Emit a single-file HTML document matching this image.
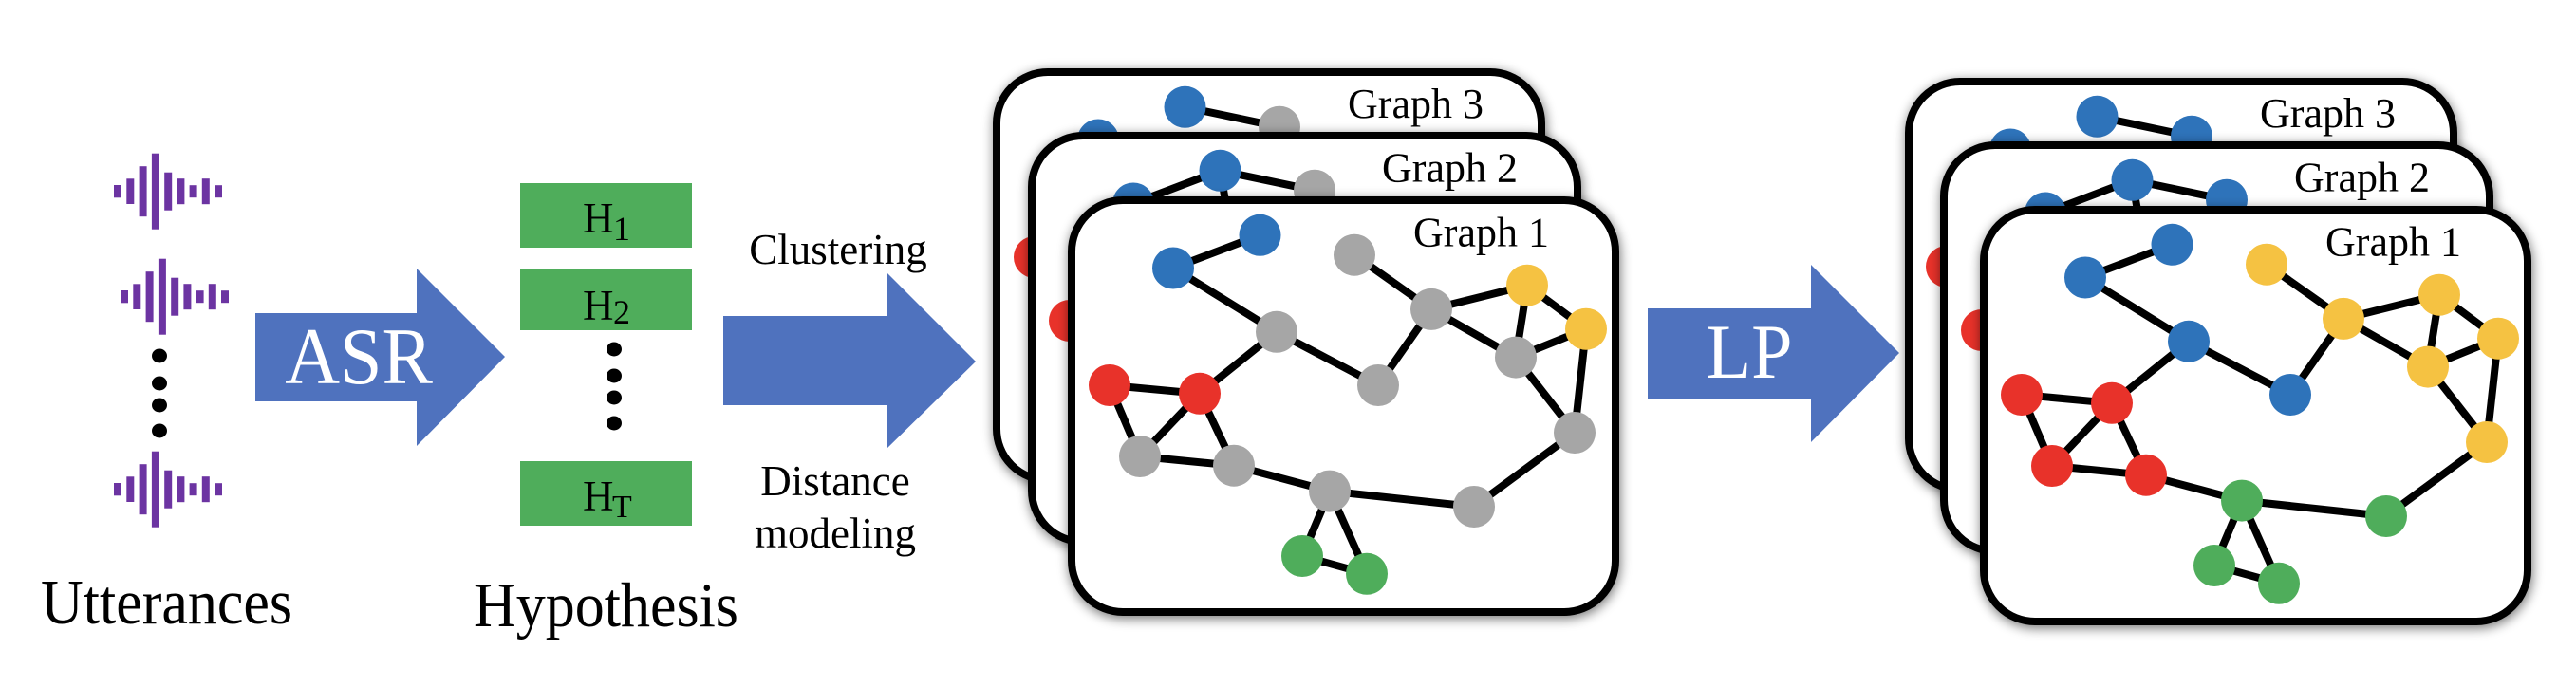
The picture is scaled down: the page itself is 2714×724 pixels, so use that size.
<!DOCTYPE html>
<html><head><meta charset="utf-8"><style>
html,body{margin:0;padding:0;background:#fff;}
svg{display:block;}
text{font-family:"Liberation Serif","Times New Roman",serif;}
</style></head><body>
<svg width="2714" height="724" viewBox="0 0 2714 724" xmlns="http://www.w3.org/2000/svg" font-family="'Liberation Serif', 'Times New Roman', serif">
<defs>
<filter id="sh" x="-10%" y="-10%" width="120%" height="125%">
<feGaussianBlur in="SourceAlpha" stdDeviation="6"/>
<feOffset dx="1" dy="3" result="b"/>
<feComponentTransfer in="b" result="c"><feFuncA type="linear" slope="0.55"/></feComponentTransfer>
<feMerge><feMergeNode in="c"/><feMergeNode in="SourceGraphic"/></feMerge>
</filter>
<g id="wave" fill="#6C34A2">
<rect x="120" y="195" width="8" height="13.3"/>
<rect x="133.3" y="188.3" width="8" height="26.7"/>
<rect x="146.6" y="175.2" width="8" height="53"/>
<rect x="159.9" y="161.7" width="8" height="80"/>
<rect x="173.2" y="181.7" width="8" height="40"/>
<rect x="186.4" y="188.2" width="8" height="27"/>
<rect x="199.6" y="195.2" width="8" height="13"/>
<rect x="212.8" y="188.2" width="8" height="27"/>
<rect x="226" y="195.2" width="8" height="13"/>
</g>
</defs>

<!-- waveforms -->
<use href="#wave"/>
<use href="#wave" transform="translate(7,111)"/>
<use href="#wave" transform="translate(0,314)"/>
<g fill="#000">
<ellipse cx="168" cy="375" rx="8" ry="7.5"/>
<ellipse cx="168" cy="404" rx="8" ry="7.5"/>
<ellipse cx="168" cy="427" rx="8" ry="7.5"/>
<ellipse cx="168" cy="454" rx="8" ry="7.5"/>
</g>
<text transform="translate(43,657) scale(1,1.07)" font-size="62">Utterances</text>

<!-- ASR arrow -->
<polygon points="269,330 439,330 439,283 532,376 439,470 439,423 269,423" fill="#4F72BE"/>
<text transform="translate(378,404) scale(1,1.06)" font-size="80" fill="#fff" text-anchor="middle">ASR</text>

<!-- hypothesis boxes -->
<g fill="#4FAD5B">
<rect x="548" y="193" width="181" height="68"/>
<rect x="548" y="283" width="181" height="65"/>
<rect x="548" y="486" width="181" height="68"/>
</g>
<g font-size="45" fill="#000">
<text x="614" y="245">H</text><text x="646" y="253" font-size="36">1</text>
<text x="614" y="337">H</text><text x="646" y="341" font-size="36">2</text>
<text x="614" y="538">H</text><text x="645" y="545" font-size="34">T</text>
</g>
<g fill="#000">
<ellipse cx="647" cy="368" rx="8" ry="7.5"/>
<ellipse cx="647" cy="396" rx="8" ry="7.5"/>
<ellipse cx="647" cy="419" rx="8" ry="7.5"/>
<ellipse cx="647" cy="446" rx="8" ry="7.5"/>
</g>
<text transform="translate(499,660) scale(1,1.07)" font-size="62">Hypothesis</text>

<!-- clustering arrow -->
<text x="883" y="278" font-size="45" text-anchor="middle">Clustering</text>
<polygon points="762,333 934,333 934,287 1028,381 934,473 934,427 762,427" fill="#4F72BE"/>
<text x="880" y="522" font-size="45" text-anchor="middle">Distance</text>
<text x="880" y="577" font-size="45" text-anchor="middle">modeling</text>

<!-- LP arrow -->
<polygon points="1736,325 1908,325 1908,279 2001,372 1908,466 1908,420 1736,420" fill="#4F72BE"/>
<text transform="translate(1843,398) scale(1,1.05)" font-size="78" fill="#fff" text-anchor="middle">LP</text>

<!-- LEFT GRAPH STACK -->
<g id="leftstack">
<rect x="1050" y="76" width="574" height="430" rx="54" fill="#fff" stroke="#000" stroke-width="8" filter="url(#sh)"/>
<g stroke="#000" stroke-width="8"><line x1="1248.5" y1="112.8" x2="1348" y2="133.7"/></g>
<circle cx="1248.5" cy="112.8" r="22" fill="#2E73BA"/>
<circle cx="1348" cy="133.7" r="22" fill="#A6A6A6"/>
<circle cx="1157" cy="147.5" r="22" fill="#2E73BA"/>
<circle cx="1090" cy="271" r="22" fill="#E8322A"/>
<text x="1563" y="124" font-size="44" text-anchor="end">Graph 3</text>

<rect x="1087" y="143" width="575" height="428" rx="54" fill="#fff" stroke="#000" stroke-width="8" filter="url(#sh)"/>
<g stroke="#000" stroke-width="8">
<line x1="1285.5" y1="179.8" x2="1194" y2="214.5"/>
<line x1="1285.5" y1="179.8" x2="1385" y2="200.7"/>
<line x1="1285.5" y1="179.8" x2="1303" y2="281.8"/>
</g>
<circle cx="1285.5" cy="179.8" r="22" fill="#2E73BA"/>
<circle cx="1385" cy="200.7" r="22" fill="#A6A6A6"/>
<circle cx="1194" cy="214.5" r="22" fill="#2E73BA"/>
<circle cx="1127" cy="338" r="22" fill="#E8322A"/>
<text x="1599" y="191.5" font-size="44" text-anchor="end">Graph 2</text>

<rect x="1129" y="211" width="573" height="434" rx="54" fill="#fff" stroke="#000" stroke-width="8" filter="url(#sh)"/>
<g stroke="#000" stroke-width="8">
<line x1="1327.5" y1="247.8" x2="1236" y2="282.5"/>
<line x1="1236" y1="282.5" x2="1345" y2="349.8"/>
<line x1="1427" y1="268.7" x2="1508" y2="325.9"/>
<line x1="1508" y1="325.9" x2="1609" y2="300.7"/>
<line x1="1508" y1="325.9" x2="1597" y2="376.6"/>
<line x1="1508" y1="325.9" x2="1452" y2="406"/>
<line x1="1609" y1="300.7" x2="1671" y2="346.7"/>
<line x1="1609" y1="300.7" x2="1597" y2="376.6"/>
<line x1="1671" y1="346.7" x2="1597" y2="376.6"/>
<line x1="1671" y1="346.7" x2="1659" y2="456"/>
<line x1="1597" y1="376.6" x2="1659" y2="456"/>
<line x1="1345" y1="349.8" x2="1452" y2="406"/>
<line x1="1345" y1="349.8" x2="1264" y2="414.8"/>
<line x1="1169" y1="406" x2="1264" y2="414.8"/>
<line x1="1169" y1="406" x2="1201" y2="481"/>
<line x1="1264" y1="414.8" x2="1201" y2="481"/>
<line x1="1264" y1="414.8" x2="1300" y2="490.7"/>
<line x1="1201" y1="481" x2="1300" y2="490.7"/>
<line x1="1300" y1="490.7" x2="1401" y2="517.6"/>
<line x1="1401" y1="517.6" x2="1553" y2="534"/>
<line x1="1553" y1="534" x2="1659" y2="456"/>
<line x1="1401" y1="517.6" x2="1372" y2="586"/>
<line x1="1401" y1="517.6" x2="1440" y2="604.8"/>
<line x1="1372" y1="586" x2="1440" y2="604.8"/>
</g>
<circle cx="1327.5" cy="247.8" r="22" fill="#2E73BA"/>
<circle cx="1236" cy="282.5" r="22" fill="#2E73BA"/>
<circle cx="1427" cy="268.7" r="22" fill="#A6A6A6"/>
<circle cx="1345" cy="349.8" r="22" fill="#A6A6A6"/>
<circle cx="1508" cy="325.9" r="22" fill="#A6A6A6"/>
<circle cx="1609" cy="300.7" r="22" fill="#F5C242"/>
<circle cx="1671" cy="346.7" r="22" fill="#F5C242"/>
<circle cx="1597" cy="376.6" r="22" fill="#A6A6A6"/>
<circle cx="1452" cy="406" r="22" fill="#A6A6A6"/>
<circle cx="1169" cy="406" r="22" fill="#E8322A"/>
<circle cx="1264" cy="414.8" r="22" fill="#E8322A"/>
<circle cx="1201" cy="481" r="22" fill="#A6A6A6"/>
<circle cx="1300" cy="490.7" r="22" fill="#A6A6A6"/>
<circle cx="1659" cy="456" r="22" fill="#A6A6A6"/>
<circle cx="1401" cy="517.6" r="22" fill="#A6A6A6"/>
<circle cx="1553" cy="534" r="22" fill="#A6A6A6"/>
<circle cx="1372" cy="586" r="22" fill="#4FAD5B"/>
<circle cx="1440" cy="604.8" r="22" fill="#4FAD5B"/>
<text x="1632" y="259.5" font-size="44" text-anchor="end">Graph 1</text>
</g>

<!-- RIGHT GRAPH STACK -->
<g transform="translate(961,10)">
<rect x="1050" y="76" width="574" height="430" rx="54" fill="#fff" stroke="#000" stroke-width="8" filter="url(#sh)"/>
<g stroke="#000" stroke-width="8"><line x1="1248.5" y1="112.8" x2="1348" y2="133.7"/></g>
<circle cx="1248.5" cy="112.8" r="22" fill="#2E73BA"/>
<circle cx="1348" cy="133.7" r="22" fill="#2E73BA"/>
<circle cx="1157" cy="147.5" r="22" fill="#2E73BA"/>
<circle cx="1090" cy="271" r="22" fill="#E8322A"/>
<text x="1563" y="124" font-size="44" text-anchor="end">Graph 3</text>

<rect x="1087" y="143" width="575" height="428" rx="54" fill="#fff" stroke="#000" stroke-width="8" filter="url(#sh)"/>
<g stroke="#000" stroke-width="8">
<line x1="1285.5" y1="179.8" x2="1194" y2="214.5"/>
<line x1="1285.5" y1="179.8" x2="1385" y2="200.7"/>
<line x1="1285.5" y1="179.8" x2="1303" y2="281.8"/>
</g>
<circle cx="1285.5" cy="179.8" r="22" fill="#2E73BA"/>
<circle cx="1385" cy="200.7" r="22" fill="#2E73BA"/>
<circle cx="1194" cy="214.5" r="22" fill="#2E73BA"/>
<circle cx="1127" cy="338" r="22" fill="#E8322A"/>
<text x="1599" y="191.5" font-size="44" text-anchor="end">Graph 2</text>

<rect x="1129" y="211" width="573" height="434" rx="54" fill="#fff" stroke="#000" stroke-width="8" filter="url(#sh)"/>
<g stroke="#000" stroke-width="8">
<line x1="1327.5" y1="247.8" x2="1236" y2="282.5"/>
<line x1="1236" y1="282.5" x2="1345" y2="349.8"/>
<line x1="1427" y1="268.7" x2="1508" y2="325.9"/>
<line x1="1508" y1="325.9" x2="1609" y2="300.7"/>
<line x1="1508" y1="325.9" x2="1597" y2="376.6"/>
<line x1="1508" y1="325.9" x2="1452" y2="406"/>
<line x1="1609" y1="300.7" x2="1671" y2="346.7"/>
<line x1="1609" y1="300.7" x2="1597" y2="376.6"/>
<line x1="1671" y1="346.7" x2="1597" y2="376.6"/>
<line x1="1671" y1="346.7" x2="1659" y2="456"/>
<line x1="1597" y1="376.6" x2="1659" y2="456"/>
<line x1="1345" y1="349.8" x2="1452" y2="406"/>
<line x1="1345" y1="349.8" x2="1264" y2="414.8"/>
<line x1="1169" y1="406" x2="1264" y2="414.8"/>
<line x1="1169" y1="406" x2="1201" y2="481"/>
<line x1="1264" y1="414.8" x2="1201" y2="481"/>
<line x1="1264" y1="414.8" x2="1300" y2="490.7"/>
<line x1="1201" y1="481" x2="1300" y2="490.7"/>
<line x1="1300" y1="490.7" x2="1401" y2="517.6"/>
<line x1="1401" y1="517.6" x2="1553" y2="534"/>
<line x1="1553" y1="534" x2="1659" y2="456"/>
<line x1="1401" y1="517.6" x2="1372" y2="586"/>
<line x1="1401" y1="517.6" x2="1440" y2="604.8"/>
<line x1="1372" y1="586" x2="1440" y2="604.8"/>
</g>
<circle cx="1327.5" cy="247.8" r="22" fill="#2E73BA"/>
<circle cx="1236" cy="282.5" r="22" fill="#2E73BA"/>
<circle cx="1427" cy="268.7" r="22" fill="#F5C242"/>
<circle cx="1345" cy="349.8" r="22" fill="#2E73BA"/>
<circle cx="1508" cy="325.9" r="22" fill="#F5C242"/>
<circle cx="1609" cy="300.7" r="22" fill="#F5C242"/>
<circle cx="1671" cy="346.7" r="22" fill="#F5C242"/>
<circle cx="1597" cy="376.6" r="22" fill="#F5C242"/>
<circle cx="1452" cy="406" r="22" fill="#2E73BA"/>
<circle cx="1169" cy="406" r="22" fill="#E8322A"/>
<circle cx="1264" cy="414.8" r="22" fill="#E8322A"/>
<circle cx="1201" cy="481" r="22" fill="#E8322A"/>
<circle cx="1300" cy="490.7" r="22" fill="#E8322A"/>
<circle cx="1659" cy="456" r="22" fill="#F5C242"/>
<circle cx="1401" cy="517.6" r="22" fill="#4FAD5B"/>
<circle cx="1553" cy="534" r="22" fill="#4FAD5B"/>
<circle cx="1372" cy="586" r="22" fill="#4FAD5B"/>
<circle cx="1440" cy="604.8" r="22" fill="#4FAD5B"/>
<text x="1632" y="259.5" font-size="44" text-anchor="end">Graph 1</text>
</g>
</svg>
</body></html>
